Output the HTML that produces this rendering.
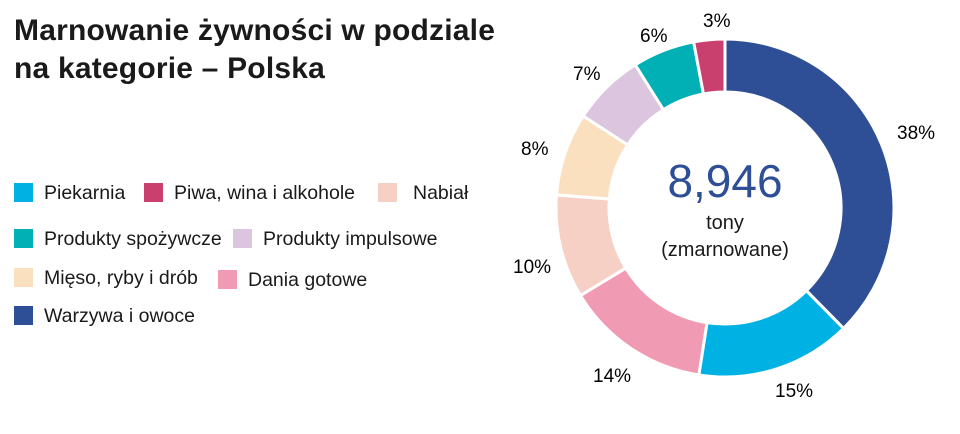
<!DOCTYPE html>
<html><head><meta charset="utf-8"><style>
body{margin:0;width:960px;height:434px;background:#fff;font-family:"Liberation Sans",sans-serif;color:#1a1a1a;position:relative;overflow:hidden}
.t{position:absolute;left:14px;top:12px;font-size:30px;font-weight:bold;line-height:38px;letter-spacing:0.2px}
.l{position:absolute;font-size:19.5px;white-space:nowrap}
.l i{display:inline-block;width:19px;height:19px;vertical-align:-3px;margin-right:11px}
</style></head><body>
<div class="t">Marnowanie żywności w podziale<br>na kategorie – Polska</div>
<div class="l" style="left:14px;top:182px"><i style="background:#00b2e3"></i>Piekarnia</div>
<div class="l" style="left:144px;top:182px"><i style="background:#c9406f"></i>Piwa, wina i alkohole</div>
<div class="l" style="left:378px;top:182px"><i style="background:#f6d0c4;margin-right:16px"></i>Nabiał</div>
<div class="l" style="left:14px;top:228px"><i style="background:#00b0b5"></i>Produkty spożywcze</div>
<div class="l" style="left:233px;top:228px"><i style="background:#dcc5df"></i>Produkty impulsowe</div>
<div class="l" style="left:14px;top:267px"><i style="background:#fbe0bf"></i>Mięso, ryby i drób</div>
<div class="l" style="left:218px;top:269px"><i style="background:#f09ab3"></i>Dania gotowe</div>
<div class="l" style="left:14px;top:305px"><i style="background:#2e4f96"></i>Warzywa i owoce</div>
<svg id="s" width="960" height="434" style="position:absolute;left:0;top:0" font-family="Liberation Sans, sans-serif">
<text x="725" y="197" text-anchor="middle" font-size="46" fill="#2e4f96">8,946</text>
<text x="725" y="229" text-anchor="middle" font-size="20" fill="#1a1a1a">tony</text>
<text x="725" y="256" text-anchor="middle" font-size="20" fill="#1a1a1a">(zmarnowane)</text>
<g font-size="19">
<text x="897" y="139">38%</text>
<text x="775" y="397">15%</text>
<text x="593" y="382">14%</text>
<text x="513" y="273">10%</text>
<text x="521" y="155">8%</text>
<text x="573" y="80">7%</text>
<text x="640" y="42">6%</text>
<text x="703" y="27">3%</text>
</g>
</svg>
<script>
var d=[[38,"#2e4f96"],[15,"#00b2e3"],[14,"#f09ab3"],[10,"#f6d0c4"],[8,"#fbe0bf"],[7,"#dcc5df"],[6,"#00b0b5"],[3,"#c9406f"]];
var cx=725,cy=208,R=169,r=116,tot=101,a=0,s=document.getElementById('s'),h='';
function p(rad,ang){return [cx+rad*Math.sin(ang),cy-rad*Math.cos(ang)];}
d.forEach(function(e){var a0=a/tot*2*Math.PI;a+=e[0];var a1=a/tot*2*Math.PI;var L=(a1-a0)>Math.PI?1:0;
var p1=p(R,a0),p2=p(R,a1),p3=p(r,a1),p4=p(r,a0);
h+='<path d="M'+p1+' A'+R+' '+R+' 0 '+L+' 1 '+p2+' L'+p3+' A'+r+' '+r+' 0 '+L+' 0 '+p4+' Z" fill="'+e[1]+'" stroke="#fff" stroke-width="3"/>';});
s.insertAdjacentHTML('afterbegin',h);
</script>
</body></html>
